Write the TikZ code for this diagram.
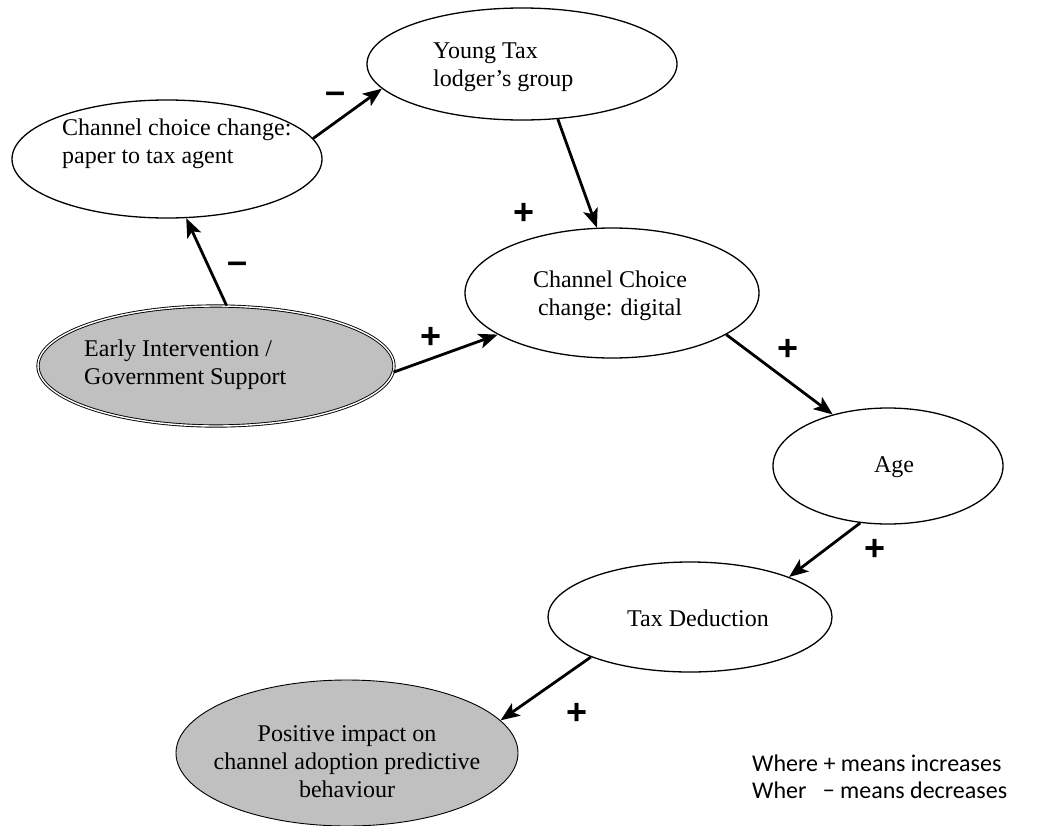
\documentclass[tikz,border=0pt]{standalone}
\usepackage{fontspec}
\setmainfont{Liberation Serif}
\newfontfamily\plusfont{Liberation Sans}
\newfontfamily\legendfont{Carlito}
\usetikzlibrary{arrows.meta,shapes.geometric}
\tikzset{
  ell/.style={ellipse, draw=black, line width=1.3pt, fill=white, inner sep=0pt},
  grayell/.style={ellipse, draw=black, line width=0.9pt, fill=fillgray, inner sep=0pt},
  txt/.style={font=\fontsize{24}{28}\selectfont, align=left, inner sep=0pt},
  ctxt/.style={font=\fontsize{24}{28}\selectfont, align=center, inner sep=0pt},
  conn/.style={line width=2.8pt, -{Stealth[length=19pt,width=15pt,inset=4.5pt]}},
  sign/.style={font=\plusfont\bfseries\fontsize{36}{36}\selectfont, inner sep=0pt},
  legend/.style={font=\legendfont\fontsize{24}{27}\selectfont, align=left, inner sep=0pt, anchor=west}
}
\definecolor{fillgray}{HTML}{C0C0C0}
\begin{document}
\begin{tikzpicture}[x=1pt,y=-1pt]
\useasboundingbox (0,0) rectangle (1058,825);
% ellipses
\node[ell, minimum width=310pt, minimum height=118pt] (paper) at (167,159) {};
\node[ell, minimum width=310pt, minimum height=112pt] (young) at (522,64) {};
\node[ell, minimum width=294pt, minimum height=130pt] (digital) at (612,293) {};
\node[grayell, double=white, double distance=1.4pt, minimum width=356pt, minimum height=120pt] (early) at (216,366) {};
\node[ell, minimum width=230pt, minimum height=116pt] (age) at (888,466) {};
\node[ell, minimum width=284pt, minimum height=110pt] (tax) at (690,617) {};
\node[grayell, minimum width=342pt, minimum height=146pt] (pos) at (347,753) {};
% texts
\node[txt, anchor=west] (tpaper) at (62,144) {Channel choice change:\\paper to tax agent};
\node[txt, anchor=west] (tyoung) at (433,67) {Young Tax\\lodger’s group};
\node[txt, anchor=west] (tearly) at (84,365) {Early Intervention /\\Government Support};
\node[ctxt] (tdigital) at (610,296) {Channel Choice\\change: digital};
\node[ctxt] (tage) at (894,467) {Age};
\node[ctxt] (ttax) at (698,618) {Tax Deduction};
\node[ctxt] (tpos) at (347,762) {Positive impact on\\channel adoption predictive\\behaviour};
% connectors
\draw[conn] (early.80) -- (paper.288);
\draw[conn] (paper.8) -- (young.190);
\draw[conn] (young.303) -- (digital.103);
\draw[conn] (early.358) -- (digital.200);
\draw[conn] (digital.340) -- (age.137);
\draw[conn] (age.244) -- (tax.22);
\draw[conn] (tax.202) -- (pos.12);
% signs
\node[sign] (m1) at (336,98) {–};
\node[sign] (m2) at (238,268) {–};
\node[sign] (p1) at (524,214) {+};
\node[sign] (p2) at (431,338) {+};
\node[sign] (p3) at (788,350) {+};
\node[sign] (p4) at (875,550) {+};
\node[sign] (p5) at (577,714) {+};
% legend
\node[legend] (leg) at (752,777) {Where + means increases\\Wher \ \ − means decreases};
\end{tikzpicture}
\end{document}
